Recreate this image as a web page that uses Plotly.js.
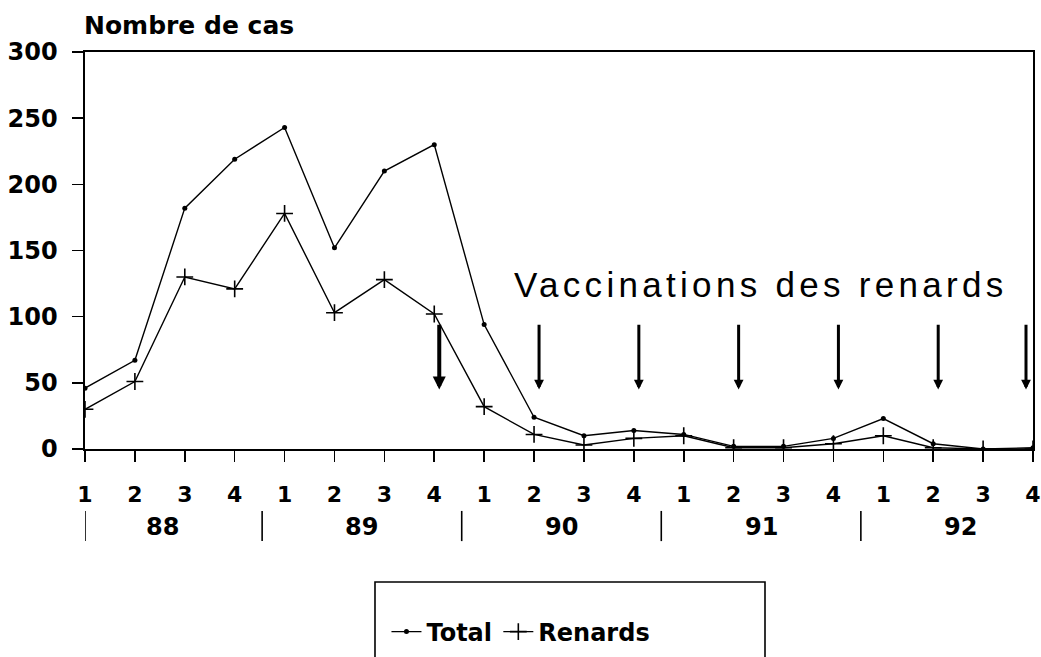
<!DOCTYPE html>
<html>
<head>
<meta charset="utf-8">
<script src="https://cdn.plot.ly/plotly-3.0.1.min.js"></script>
<style>html,body{margin:0;padding:0;background:#fff;}#chart{width:1041px;height:657px;}</style>
</head>
<body>
<div id="chart"></div>
<script>
// ---- data ----
var years = ['88', '89', '90', '91', '92'];
var quarters = ['1', '2', '3', '4'];
var total   = [46, 67, 182, 219, 243, 152, 210, 230, 94, 24, 10, 14, 11, 2, 2, 8, 23, 4, 0, 1];
var renards = [30, 51, 130, 121, 178, 103, 128, 102, 32, 11, 3, 8, 10, 1, 1, 4, 10, 1, 0, 0];
// vaccination campaigns (year, quarter)
var vaccYears    = ['89', '90', '90', '91', '91', '92', '92'];
var vaccQuarters = ['4',  '2',  '4',  '2',  '4',  '2',  '4'];
var vaccLabel = 'Vaccinations des renards';

// ---- build ----
var idx = [], tickText = [];
years.forEach(function (y, i) {
  quarters.forEach(function (q, j) { idx.push(i * 4 + j); tickText.push(q); });
});
function indexOf(y, q) { return years.indexOf(y) * 4 + quarters.indexOf(q); }

var black = '#000';
var traces = [
  { x: idx, y: total, name: 'Total', type: 'scatter', mode: 'lines+markers', legend: 'legend',
    line: { color: black, width: 1.4 }, marker: { symbol: 'circle', size: 5, color: black } },
  { x: idx, y: renards, name: 'Renards', type: 'scatter', mode: 'lines+markers', legend: 'legend2',
    line: { color: black, width: 1.4 },
    marker: { symbol: 'cross-thin', size: 12, color: black, line: { color: black, width: 1.6 } } }
];

var annotations = [];
var shapes = [];
vaccYears.forEach(function (y, k) {
  var xi = indexOf(y, vaccQuarters[k]);
  var last = k === vaccYears.length - 1;
  annotations.push({ x: xi, y: 45, ax: xi, ay: 95, xref: 'x', yref: 'y', axref: 'x', ayref: 'y',
    xshift: last ? -7 : 5,
    showarrow: true, arrowhead: 2, arrowsize: 0.65, arrowwidth: k === 0 ? 4 : 3, arrowcolor: black, text: '' });
});
annotations.push({ x: 13.55, y: 124, xref: 'x', yref: 'y', showarrow: false,
  text: '<span style="letter-spacing:4.3px">' + vaccLabel + '</span>',
  font: { family: 'Liberation Sans, Arial, sans-serif', size: 35, color: black } });

years.forEach(function (y, i) {
  annotations.push({ x: i * 4 + 1.55, y: -0.196, xref: 'x', yref: 'paper', xanchor: 'center', yanchor: 'middle',
    showarrow: false, text: y,
    font: { family: 'DejaVu Sans', size: 24, weight: 'bold', color: black } });
});
var seps = [0];
for (var i = 1; i < years.length; i++) seps.push(i * 4 - 0.45);
seps.push(idx[idx.length - 1] + 0.05);
seps.forEach(function (s) {
  shapes.push({ type: 'line', xref: 'x', yref: 'paper', x0: s, x1: s, y0: -0.156, y1: -0.232,
    line: { color: black, width: 1.6 } });
});
annotations.push({ x: 0, y: 1.0, xref: 'paper', yref: 'paper', xanchor: 'left', yanchor: 'bottom',
  xshift: -3, yshift: 10, showarrow: false, text: 'Nombre de cas',
  font: { family: 'DejaVu Sans', size: 25, weight: 'bold', color: black } });
// legend frame
shapes.push({ type: 'rect', xref: 'paper', yref: 'paper', x0: 0.3059, x1: 0.7173, y0: -0.335, y1: -0.70,
  line: { color: black, width: 1.6 }, fillcolor: 'rgba(0,0,0,0)' });

var legendStyle = function (xpos) {
  return { orientation: 'h', x: xpos, y: -0.461, xanchor: 'left', yanchor: 'middle',
    font: { family: 'DejaVu Sans', size: 24, weight: 'bold', color: black },
    bgcolor: 'rgba(0,0,0,0)', borderwidth: 0, itemwidth: 30 };
};

var layout = {
  width: 1041, height: 657,
  margin: { l: 85, r: 8, t: 52, b: 208, autoexpand: false },
  paper_bgcolor: '#fff', plot_bgcolor: '#fff',
  showlegend: true,
  legend: legendStyle(0.318),
  legend2: legendStyle(0.436),
  xaxis: { range: [0, 19], tickvals: idx, ticktext: tickText, ticks: 'outside', ticklen: 11,
    tickwidth: 1.6, tickcolor: black, showline: true, linecolor: black, linewidth: 1.6, mirror: true,
    showgrid: false, zeroline: false, ticklabelstandoff: 14,
    tickfont: { family: 'DejaVu Sans', size: 22, weight: 'bold', color: black } },
  yaxis: { range: [0, 300], tickvals: [0, 50, 100, 150, 200, 250, 300], ticks: 'outside', ticklen: 11,
    tickwidth: 1.6, tickcolor: black, showline: true, linecolor: black, linewidth: 1.6, mirror: true,
    showgrid: false, zeroline: false, ticklabelstandoff: 10,
    tickfont: { family: 'DejaVu Sans', size: 24, weight: 'bold', color: black } },
  annotations: annotations,
  shapes: shapes
};

Plotly.newPlot('chart', traces, layout, { displayModeBar: false, staticPlot: true });
</script>
</body>
</html>
